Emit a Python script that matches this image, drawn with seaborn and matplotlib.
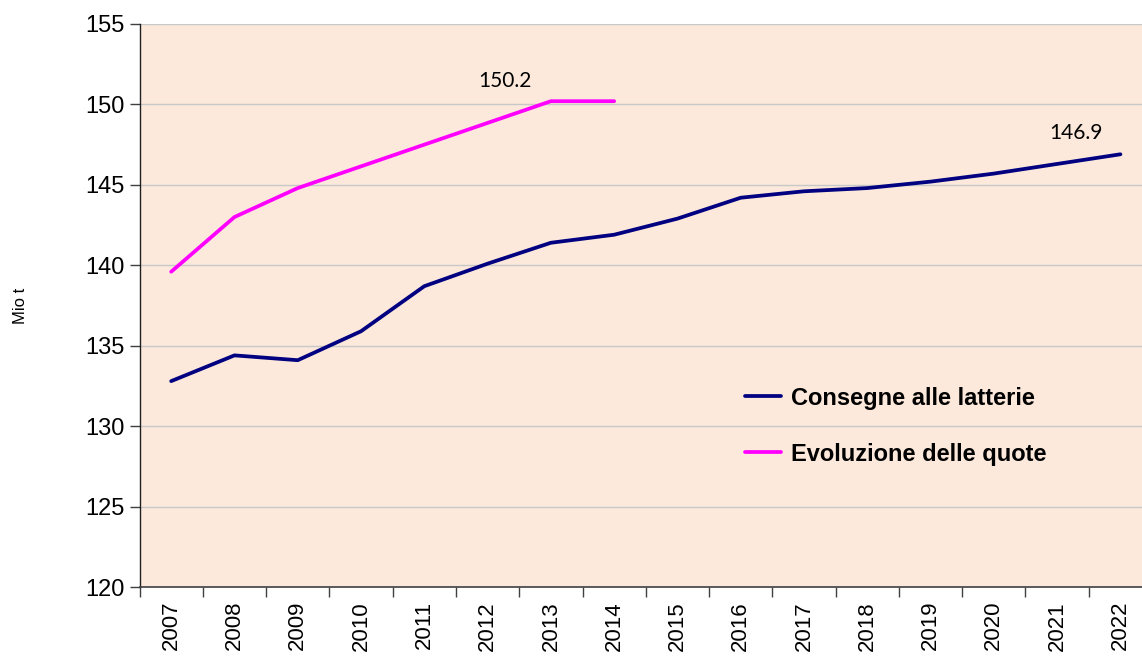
import numpy as np
import pandas as pd
import matplotlib
matplotlib.use("Agg")
import matplotlib.pyplot as plt
import seaborn as sns

# data
years = [str(y) for y in range(2007, 2023)]
consegne = [132.8, 134.4, 134.1, 135.9, 138.7, 140.1, 141.4, 141.9,
            142.9, 144.2, 144.6, 144.8, 145.2, 145.7, 146.3, 146.9]
quote = [139.6, 143.0, 144.8, 146.15, 147.5, 148.85, 150.2, 150.2]
series_names = ["Consegne alle latterie", "Evoluzione delle quote"]
series_colors = ["#000080", "#FF00FF"]

df = pd.concat([
    pd.DataFrame({"pos": range(len(consegne)), "val": consegne, "serie": series_names[0]}),
    pd.DataFrame({"pos": range(len(quote)), "val": quote, "serie": series_names[1]}),
])

sns.set_theme(style="white")
plt.rcParams["font.family"] = ["Liberation Sans", "DejaVu Sans"]
plt.rcParams["text.color"] = "black"
plt.rcParams["xtick.color"] = "black"
plt.rcParams["ytick.color"] = "black"
plt.rcParams["axes.labelcolor"] = "black"

fig = plt.figure(figsize=(11.42, 6.57), dpi=100)
ax = fig.add_axes([0.1222, 0.1065, 0.8866, 0.857])
ax.set_facecolor("#FCE9DB")

sns.lineplot(data=df, x="pos", y="val", hue="serie", palette=series_colors,
             linewidth=2.7, ax=ax, legend=False)

ax.set_ylim(120, 155)
ax.set_yticks(range(120, 156, 5))
ax.set_xlim(-0.5, len(years) - 0.5)
ax.set_xticks(np.arange(-0.5, len(years), 1))
ax.set_xticklabels([])
ax.set_xticks(range(len(years)), minor=True)
ax.set_xticklabels(years, minor=True, rotation=90, fontsize=16)
ax.tick_params(axis="x", which="major", direction="out", length=7, width=1, color="#404040", bottom=True)
ax.tick_params(axis="x", which="minor", length=0, pad=10)
ax.tick_params(axis="y", direction="out", length=7, width=1, color="#404040", left=True, labelsize=17, pad=4)
ax.yaxis.grid(True, color="#C8C8C8", linewidth=1)
ax.set_axisbelow(True)
for s in ["top", "right"]:
    ax.spines[s].set_visible(False)
ax.spines["left"].set_color("#202020")
ax.spines["bottom"].set_color("#404040")
ax.spines["left"].set_linewidth(1)
ax.spines["bottom"].set_linewidth(1.2)

ax.set_xlabel("")
ax.set_ylabel("Mio t", fontsize=12, labelpad=41)

# value labels
ax.annotate(f"{quote[6]:.1f}", (6, quote[6]), xytext=(-33, 7), textcoords="offset points",
            ha="center", va="bottom", fontsize=15, family=["Lato", "DejaVu Sans"])
ax.annotate(f"{consegne[-1]:.1f}", (15, consegne[-1]), xytext=(-32, 8), textcoords="offset points",
            ha="center", va="bottom", fontsize=15, family=["Lato", "DejaVu Sans"])

handles = [plt.Line2D([], [], color=c, linewidth=2.7) for c in series_colors]
ax.legend(handles, series_names, loc="upper left", bbox_to_anchor=(0.634, 0.444),
          bbox_transform=fig.transFigure, frameon=False, handlelength=1.52,
          handletextpad=0.4, labelspacing=1.4, prop={"weight": "bold", "size": 17})

fig.savefig("out.png", dpi=100)
